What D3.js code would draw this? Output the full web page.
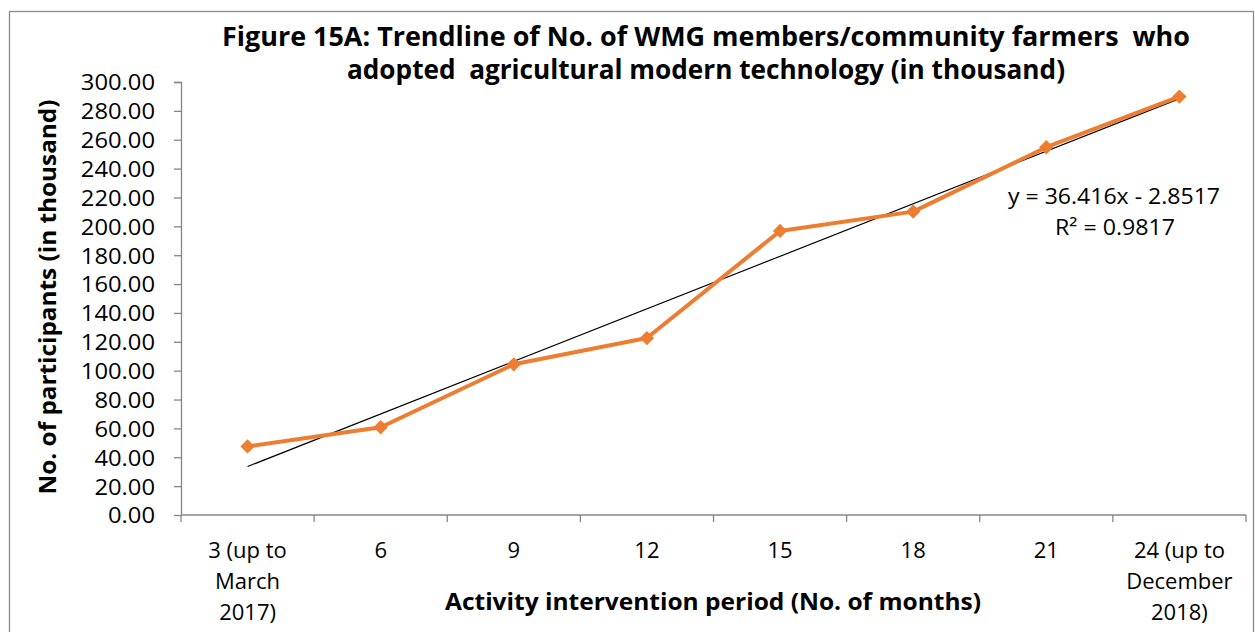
<!DOCTYPE html>
<html>
<head>
<meta charset="utf-8">
<script src="https://cdn.jsdelivr.net/npm/d3@7"></script>
<style>
  body { margin: 0; background: #fff; }
  svg { display: block; font-family: 'Open Sans', 'Noto Sans', sans-serif; }
</style>
</head>
<body>
<div class="chart"></div>
<script>
// data
const categories = ['3 (up to|March|2017)', '6', '9', '12', '15', '18', '21', '24 (up to|December|2018)'];
const values = [47.5, 60.8, 104.4, 122.6, 196.8, 210.2, 254.8, 289.9];
const yTicks = [0, 20, 40, 60, 80, 100, 120, 140, 160, 180, 200, 220, 240, 260, 280, 300];
const trend = { slope: 36.416, intercept: -2.8517, r2: 0.9817 };
const titleLines = ['Figure 15A: Trendline of No. of WMG members/community farmers  who', 'adopted  agricultural modern technology (in thousand)'];

const FONT = "'Open Sans', 'Noto Sans', sans-serif";
const W = 1255, H = 632;
const margin = { top: 82, right: 9, bottom: 117, left: 181 };
const width = W - margin.left - margin.right;
const height = H - margin.top - margin.bottom;

const svg = d3.select('.chart').append('svg')
  .attr('width', W)
  .attr('height', H);

svg.append('rect')
  .attr('x', 9.5).attr('y', 11.5)
  .attr('width', 1244).attr('height', 640)
  .attr('fill', 'none')
  .attr('stroke', '#8c8c8c')
  .attr('stroke-width', 1.3);

const g = svg.append('g')
  .attr('transform', 'translate(' + margin.left + ', ' + margin.top + ')');

const x = d3.scaleBand().domain(categories).range([0, width]);
const y = d3.scaleLinear().domain([0, 300]).range([height, 0]);

// y axis
const yAxis = g.append('g')
  .call(d3.axisLeft(y).tickValues(yTicks).tickFormat(d3.format('.2f')).tickSize(7).tickPadding(19));
// x axis
const xAxis = g.append('g')
  .attr('transform', 'translate(0, ' + height + ')')
  .call(d3.axisBottom(x).tickSize(0).tickFormat(''));

[yAxis, xAxis].forEach(a => {
  a.attr('font-family', FONT);
  a.select('.domain').attr('stroke', '#868686').attr('stroke-width', 1.3);
  a.selectAll('line').attr('stroke', '#868686').attr('stroke-width', 1.3);
});
yAxis.select('.domain').attr('d', 'M-7,0.5H0.5V' + height);
xAxis.select('.domain').attr('d', 'M0,0H' + width);
yAxis.selectAll('text').attr('font-size', 22).attr('fill', '#000').attr('dy', '0.36em')
  .attr('lengthAdjust', 'spacingAndGlyphs')
  .each(function () { this.setAttribute('textLength', this.getComputedTextLength() * 1.08); });

// x ticks at band boundaries
const bounds = categories.map(c => x(c)).concat([width]);
xAxis.selectAll('.bnd')
  .data(bounds)
  .enter().append('line')
  .attr('x1', d => d).attr('x2', d => d)
  .attr('y1', 0).attr('y2', 7)
  .attr('stroke', '#868686').attr('stroke-width', 1.3);

// x tick labels
const xl = xAxis.selectAll('.xl')
  .data(categories)
  .enter().append('text')
  .attr('text-anchor', 'middle')
  .attr('font-size', 22)
  .attr('fill', '#000');
xl.each(function (d) {
  const t = d3.select(this);
  d.split('|').forEach((line, i) => {
    t.append('tspan')
      .attr('x', x(d) + x.bandwidth() / 2)
      .attr('y', 43 + i * 31)
      .text(line);
  });
});

// trendline
const xi = i => x(categories[i]) + x.bandwidth() / 2;
const tx = [1, categories.length];
g.append('line')
  .attr('x1', xi(0)).attr('y1', y(trend.slope * tx[0] + trend.intercept))
  .attr('x2', xi(categories.length - 1)).attr('y2', y(trend.slope * tx[1] + trend.intercept))
  .attr('stroke', '#000').attr('stroke-width', 1.2);

// series
const line = d3.line()
  .x((d, i) => xi(i))
  .y(d => y(d));
g.append('path')
  .datum(values)
  .attr('fill', 'none')
  .attr('stroke', '#ED7D31')
  .attr('stroke-width', 4)
  .attr('stroke-linejoin', 'round')
  .attr('d', line);

g.selectAll('.pt')
  .data(values)
  .enter().append('path')
  .attr('transform', (d, i) => 'translate(' + xi(i) + ',' + y(d) + ')')
  .attr('d', d3.symbol().type(d3.symbolDiamond2).size(130))
  .attr('fill', '#ED7D31');

// trend equation
const eq = svg.append('text')
  .attr('text-anchor', 'middle')
  .attr('font-size', 22)
  .attr('fill', '#000');
eq.append('tspan').attr('x', 1114).attr('y', 204)
  .attr('textLength', 212).attr('lengthAdjust', 'spacingAndGlyphs')
  .text('y = ' + trend.slope + 'x - ' + Math.abs(trend.intercept));
eq.append('tspan').attr('x', 1115).attr('y', 235)
  .attr('textLength', 120).attr('lengthAdjust', 'spacingAndGlyphs')
  .text('R² = ' + trend.r2);

// title
svg.selectAll('.title')
  .data(titleLines)
  .enter().append('text')
  .attr('x', 706)
  .attr('y', (d, i) => 46 + i * 33)
  .attr('text-anchor', 'middle')
  .attr('font-size', 26)
  .attr('font-weight', 'bold')
  .style('white-space', 'pre')
  .attr('textLength', (d, i) => i === 0 ? 968 : 718)
  .attr('lengthAdjust', 'spacingAndGlyphs')
  .text(d => d);

// axis titles
svg.append('text')
  .attr('x', 713).attr('y', 610)
  .attr('text-anchor', 'middle')
  .attr('font-size', 23.5)
  .attr('font-weight', 'bold')
  .attr('textLength', 536)
  .attr('lengthAdjust', 'spacingAndGlyphs')
  .text('Activity intervention period (No. of months)');

svg.append('text')
  .attr('transform', 'translate(56, 297) rotate(-90)')
  .attr('text-anchor', 'middle')
  .attr('font-size', 23.5)
  .attr('font-weight', 'bold')
  .attr('textLength', 395)
  .attr('lengthAdjust', 'spacingAndGlyphs')
  .text('No. of participants (in thousand)');
</script>
</body>
</html>
